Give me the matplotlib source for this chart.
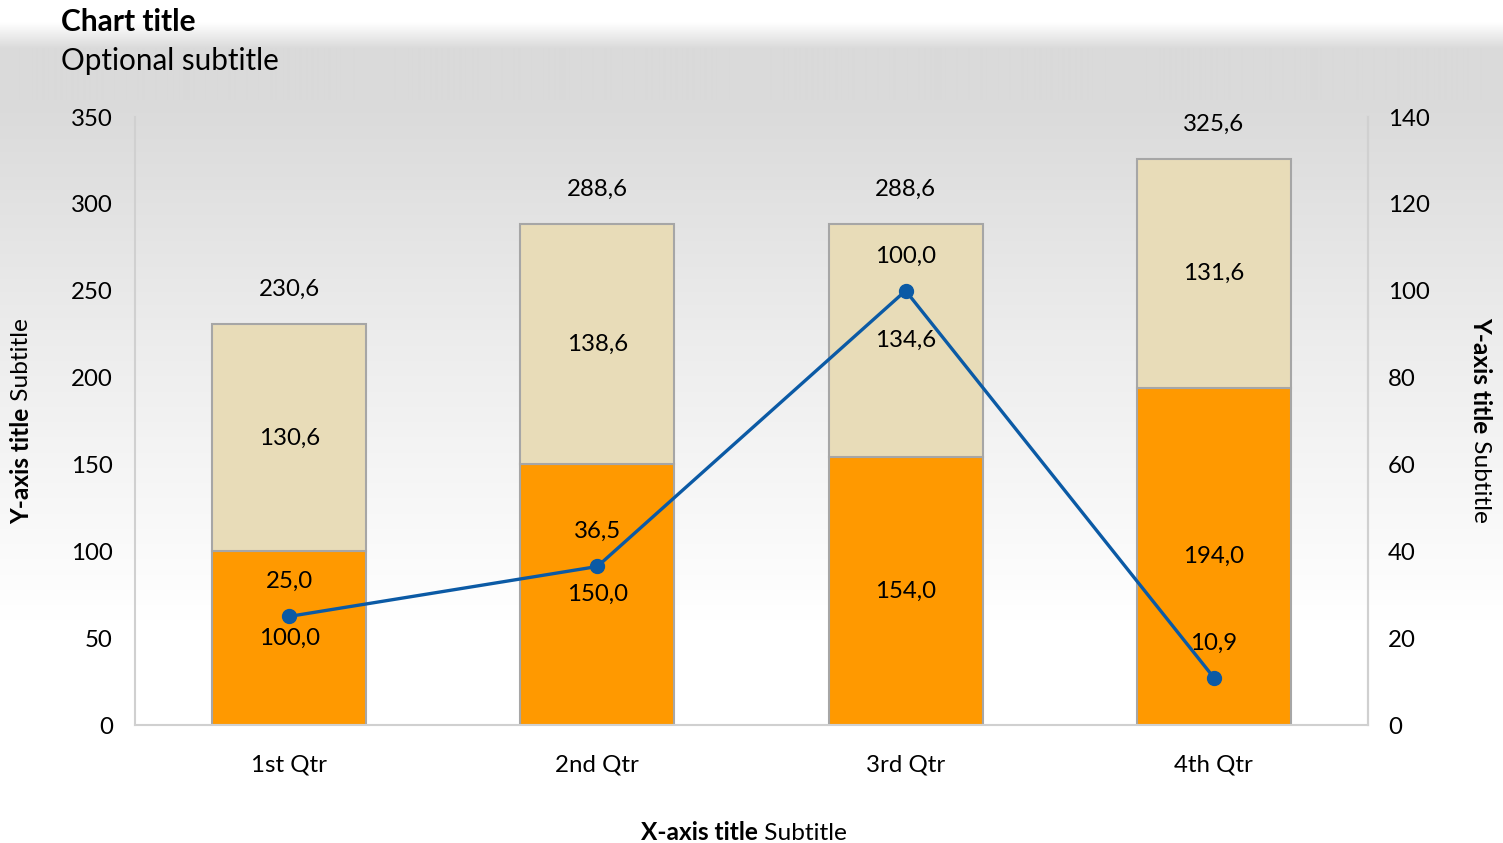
import matplotlib
matplotlib.use("Agg")
import matplotlib.pyplot as plt
import numpy as np

plt.rcParams['font.family'] = ['Lato', 'DejaVu Sans']

categories = ["1st Qtr", "2nd Qtr", "3rd Qtr", "4th Qtr"]
series_bottom = [100.0, 150.0, 154.0, 194.0]
series_top = [130.6, 138.6, 134.6, 131.6]
series_line = [25.0, 36.5, 100.0, 10.9]
left_ticks = [0, 50, 100, 150, 200, 250, 300, 350]
right_ticks = [0, 20, 40, 60, 80, 100, 120, 140]

ORANGE = "#FF9900"
BEIGE = "#E8DCB8"
EDGE = "#A6A6A6"
BLUE = "#0B5AA5"
SPINE = "#D0D0D0"
FS = 17.3

W, H = 1503, 843
fig = plt.figure(figsize=(W / 100, H / 100), dpi=100)

# background gradient
bg = fig.add_axes([0, 0, 1, 1], zorder=-10)
ys = np.arange(H)
vals = np.interp(ys, [0, 22, 48, 100, 330, 620, H], [255, 255, 218, 218, 236, 255, 255]) / 255.0
img = np.repeat(vals[:, None], 4, axis=1)
img = np.dstack([img, img, img])
bg.imshow(img, aspect='auto', extent=[0, 1, 0, 1], interpolation='bilinear')
bg.set_axis_off()

def fx(px):
    return px / W

def fy(py):
    return 1 - py / H

ax = fig.add_axes([fx(135), fy(725), fx(1368) - fx(135), fy(117) - fy(725)])
ax.patch.set_visible(False)
x = np.arange(len(categories))
ax.bar(x, series_bottom, width=0.5, color=ORANGE, edgecolor=EDGE, linewidth=1.5, zorder=2)
ax.bar(x, series_top, width=0.5, bottom=series_bottom, color=BEIGE, edgecolor=EDGE, linewidth=1.5, zorder=2)
ax.set_xlim(-0.5, len(categories) - 0.5)
ax.set_ylim(0, 350)
ax.set_yticks(left_ticks)
ax.set_yticklabels([str(t) for t in left_ticks])
ax.set_xticks(x)
ax.set_xticklabels(categories)
ax.tick_params(axis='both', length=0, labelsize=FS, colors='black')
ax.tick_params(axis='y', pad=16)
ax.tick_params(axis='x', pad=21)
for s in ['top']:
    ax.spines[s].set_visible(False)
for s in ['left', 'right', 'bottom']:
    ax.spines[s].set_color(SPINE)
    ax.spines[s].set_linewidth(1.5)

def fmt(v):
    return f"{v:.1f}".replace('.', ',')

for i in range(len(categories)):
    b = series_bottom[i]
    t = series_top[i]
    ax.text(x[i], b / 2, fmt(b), ha='center', va='center', fontsize=FS, zorder=3)
    ax.text(x[i], b + t / 2, fmt(t), ha='center', va='center', fontsize=FS, zorder=3)
    ax.annotate(fmt(b + t), (x[i], b + t), xytext=(0, 25), textcoords='offset points',
                ha='center', va='center', fontsize=FS)

ax2 = ax.twinx()
ax2.patch.set_visible(False)
ax2.set_ylim(0, 140)
ax2.set_yticks(right_ticks)
ax2.set_yticklabels([str(t) for t in right_ticks])
ax2.tick_params(axis='y', length=0, labelsize=FS, pad=14.5)
for s in ['top', 'left', 'bottom']:
    ax2.spines[s].set_visible(False)
ax2.spines['right'].set_color(SPINE)
ax2.spines['right'].set_linewidth(1.5)
ax2.plot(x, series_line, color=BLUE, linewidth=2.4, marker='o', markersize=10, zorder=4)
for i in range(len(categories)):
    ax2.annotate(fmt(series_line[i]), (x[i], series_line[i]), xytext=(0, 25),
                 textcoords='offset points', ha='center', va='center', fontsize=FS)

# titles
fig.text(fx(61), fy(22), "Chart title", fontsize=21.5, fontweight='bold', ha='left', va='center')
fig.text(fx(61), fy(61), "Optional subtitle", fontsize=21.3, ha='left', va='center')

renderer = fig.canvas.get_renderer()

def mixed_horizontal(cx, cy, bold, reg, size):
    a = fig.text(0, 0, bold, fontsize=size, fontweight='bold', ha='left', va='center')
    b = fig.text(0, 0, " " + reg, fontsize=size, ha='left', va='center')
    wa = a.get_window_extent(renderer).width
    wb = b.get_window_extent(renderer).width
    start = cx - (wa + wb) / 2
    a.set_position((fx(start), fy(cy)))
    b.set_position((fx(start + wa), fy(cy)))

def mixed_vertical(cx, cy, bold, reg, rot, size):
    a = fig.text(0, 0, bold, fontsize=size, fontweight='bold', rotation=rot, ha='center', va='center')
    b = fig.text(0, 0, " " + reg, fontsize=size, rotation=rot, ha='center', va='center')
    ha_ = a.get_window_extent(renderer).height
    hb = b.get_window_extent(renderer).height
    total = ha_ + hb
    if rot == 90:
        bottom = cy + total / 2
        a.set_position((fx(cx), fy(bottom - ha_ / 2)))
        b.set_position((fx(cx), fy(bottom - ha_ - hb / 2)))
    else:
        top = cy - total / 2
        a.set_position((fx(cx), fy(top + ha_ / 2)))
        b.set_position((fx(cx), fy(top + ha_ + hb / 2)))

AX_FS = 17.6
mixed_horizontal(744, 833, "X-axis title", "Subtitle", AX_FS)
mixed_vertical(22, 421, "Y-axis title", "Subtitle", 90, AX_FS)
mixed_vertical(1481, 420, "Y-axis title", "Subtitle", 270, AX_FS)

fig.savefig("out.png", dpi=100)
